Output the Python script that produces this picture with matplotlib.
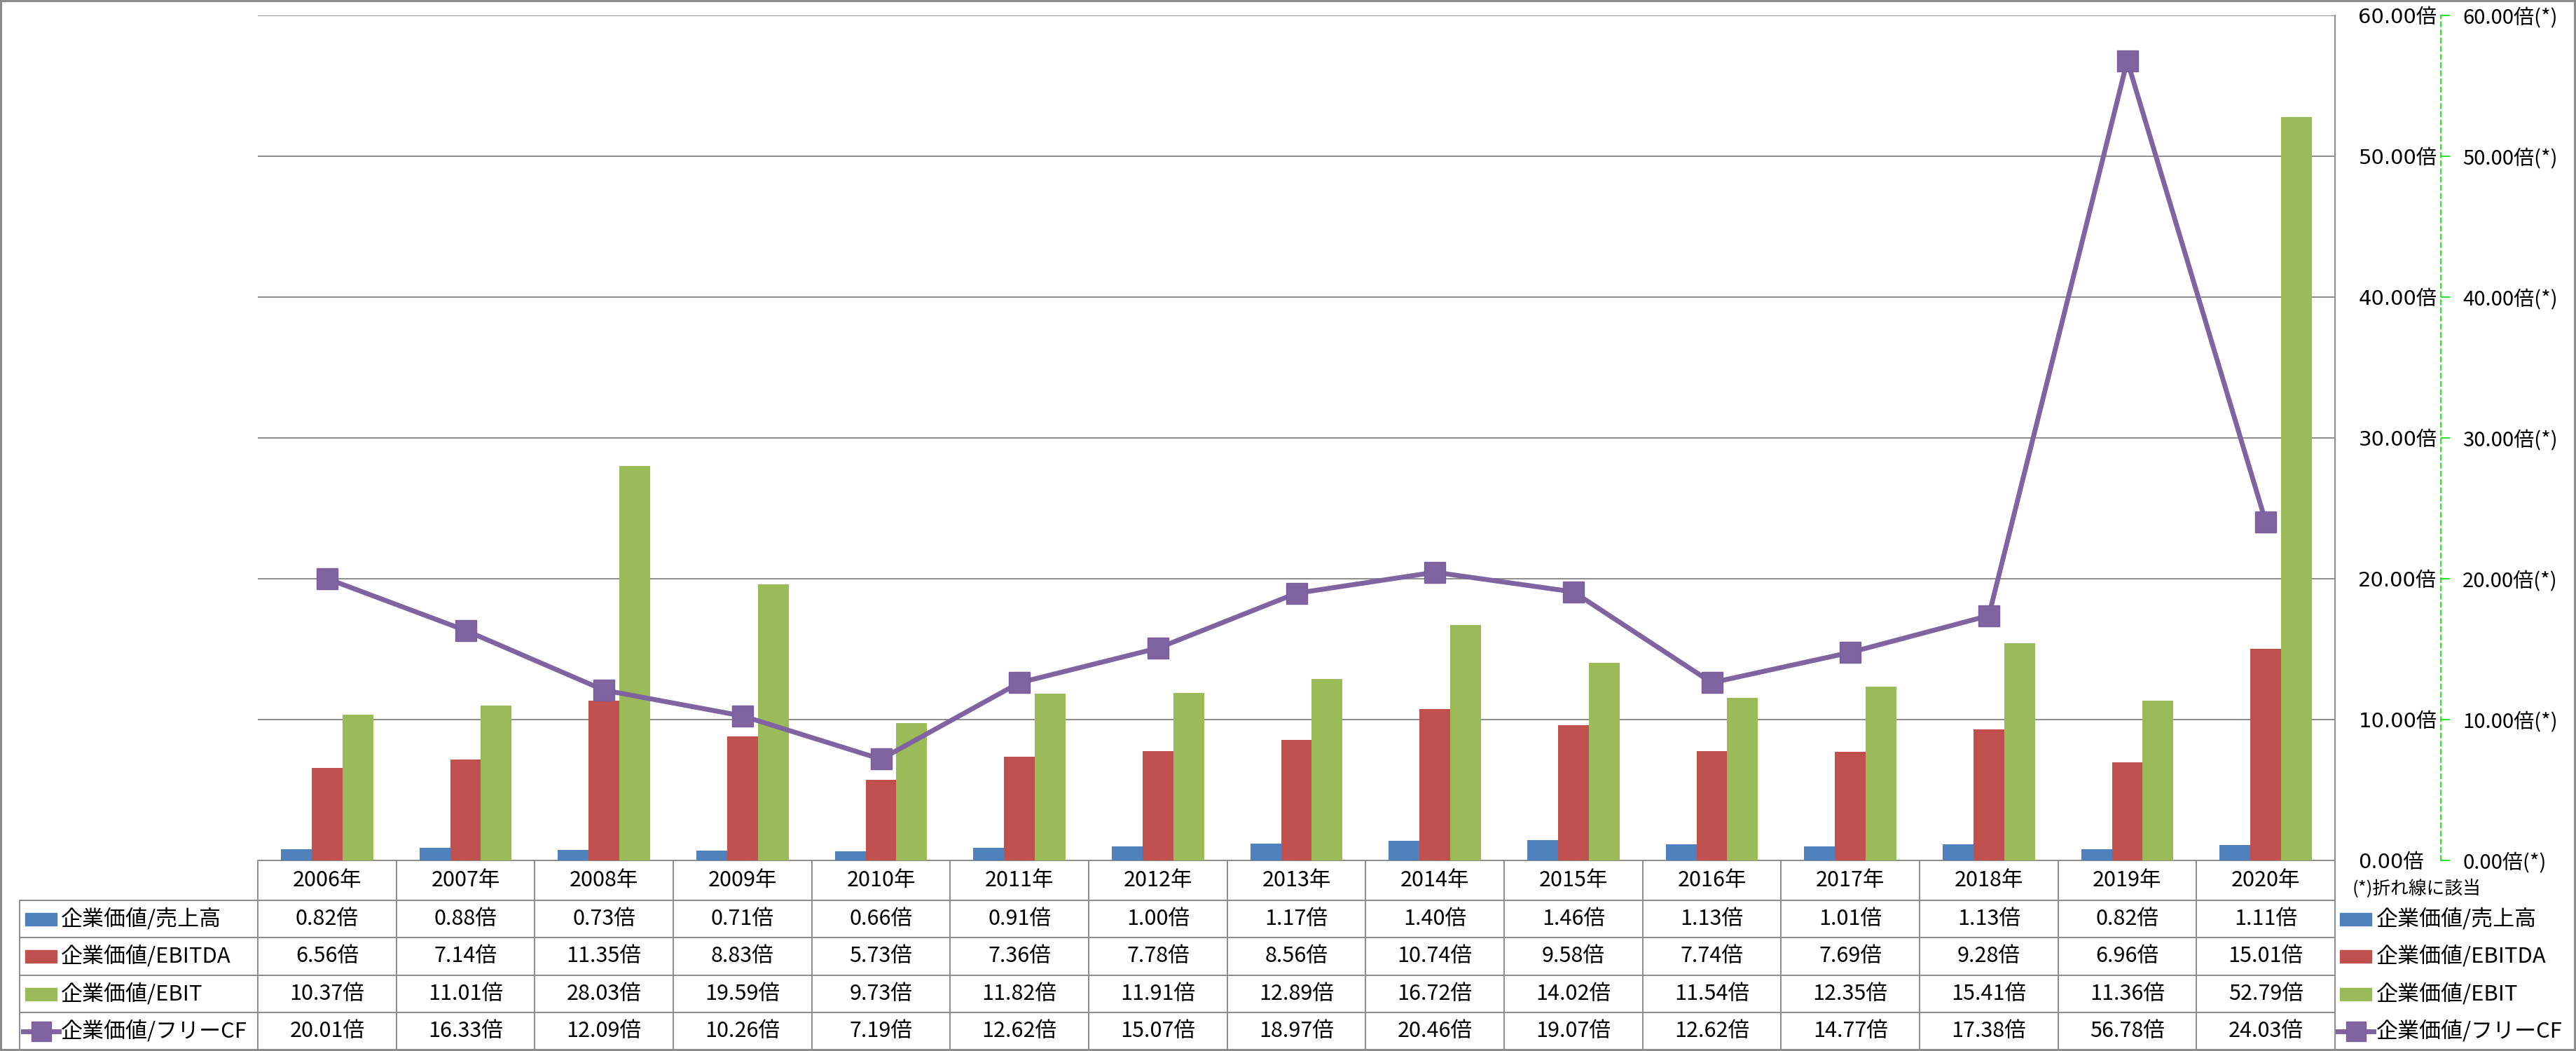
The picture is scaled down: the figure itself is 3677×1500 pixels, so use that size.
import numpy as np
import matplotlib
matplotlib.use('Agg')
import matplotlib.pyplot as plt
from matplotlib.patches import Rectangle
from matplotlib.lines import Line2D

plt.rcParams['font.family'] = ['Noto Sans CJK JP', 'DejaVu Sans']
TICK_FONT = ['DejaVu Sans', 'Noto Sans CJK JP']

# data
years = ['2006年', '2007年', '2008年', '2009年', '2010年', '2011年', '2012年', '2013年',
         '2014年', '2015年', '2016年', '2017年', '2018年', '2019年', '2020年']
ev_sales = [0.82, 0.88, 0.73, 0.71, 0.66, 0.91, 1.00, 1.17, 1.40, 1.46, 1.13, 1.01, 1.13, 0.82, 1.11]
ev_ebitda = [6.56, 7.14, 11.35, 8.83, 5.73, 7.36, 7.78, 8.56, 10.74, 9.58, 7.74, 7.69, 9.28, 6.96, 15.01]
ev_ebit = [10.37, 11.01, 28.03, 19.59, 9.73, 11.82, 11.91, 12.89, 16.72, 14.02, 11.54, 12.35, 15.41, 11.36, 52.79]
ev_fcf = [20.01, 16.33, 12.09, 10.26, 7.19, 12.62, 15.07, 18.97, 20.46, 19.07, 12.62, 14.77, 17.38, 56.78, 24.03]

names = ['企業価値/売上高', '企業価値/EBITDA', '企業価値/EBIT', '企業価値/フリーCF']
colors = ['#4F81BD', '#C0504D', '#9BBB59', '#8064A2']
yticks = [0, 10, 20, 30, 40, 50, 60]

W, H = 3677, 1500
GRAY = '#8c8c8c'
LIME = '#00E000'


def fx(x):
    return x / W


def fy(y):
    return 1 - y / H


fig = plt.figure(figsize=(W / 100, H / 100), dpi=100, edgecolor=GRAY, linewidth=3)

ax = fig.add_axes([fx(368), fy(1228), fx(3333) - fx(368), fy(22) - fy(1228)])
x = np.arange(len(years))
bw = 0.222
for k, vals in enumerate([ev_sales, ev_ebitda, ev_ebit]):
    ax.bar(x + (k - 1) * bw, vals, bw, color=colors[k], zorder=2)

ax.set_xlim(-0.5, len(years) - 0.5)
ax.set_ylim(0, 60)
ax.set_xticks([])
ax.grid(axis='y', color=GRAY, lw=1.4)
ax.set_axisbelow(True)
for s in ['left', 'top', 'bottom']:
    ax.spines[s].set_visible(False)
ax.spines['right'].set_color(GRAY)
ax.spines['right'].set_linewidth(1.4)

# line on secondary axis
ax2 = ax.twinx()
ax2.plot(x, ev_fcf, color=colors[3], lw=5, marker='s', ms=21, mec='#7a5e9c', zorder=3)
ax2.set_ylim(0, 60)
ax2.set_yticks(yticks)
ax2.set_yticklabels([f'{v:.2f}倍(*)' for v in yticks], family=TICK_FONT)
for s in ['left', 'top', 'bottom']:
    ax2.spines[s].set_visible(False)
ax2.spines['right'].set_position(('outward', 108.7))
ax2.spines['right'].set_color(LIME)
ax2.spines['right'].set_linestyle((0, (4, 3)))
ax2.spines['right'].set_linewidth(1.2)
ax2.tick_params(axis='y', direction='out', length=9.4, width=1.2, color=LIME, pad=13, labelsize=21)

# primary axis labels (twinx moves them left, put them back on the right)
ax.set_yticks(yticks)
ax.set_yticklabels([f'{v:.2f}倍' for v in yticks], family=TICK_FONT)
ax.yaxis.tick_right()
ax.tick_params(axis='y', length=0, pad=24, labelsize=21)

# data table
rows = [ev_sales, ev_ebitda, ev_ebit, ev_fcf]
cell_text = [[f'{v:.2f}倍' for v in vals] for vals in rows]
tbl = ax.table(cellText=cell_text, colLabels=years,
               cellLoc='center', bbox=[0, -270 / 1206, 1, 270 / 1206])
col_w = 1 / len(years)
for r in range(1, len(rows) + 1):
    tbl.add_cell(r, -1, width=col_w * 340 / 197.67, height=1, text='')
tbl.auto_set_font_size(False)
for (r, c), cell in tbl.get_celld().items():
    cell.set_edgecolor(GRAY)
    cell.set_linewidth(1.4)
    cell.get_text().set_fontsize(22)
    cell.set_height(57 if r == 0 else 53.25)

# row labels and legend keys
row_y = [1311.5, 1365, 1419, 1472]


def draw_key(i, x0, x1, yc):
    if i < 3:
        fig.patches.append(Rectangle((fx(x0), fy(yc + 9)), fx(x1 - x0), 18 / H,
                                     transform=fig.transFigure, color=colors[i]))
    else:
        xm = (x0 + x1) / 2
        fig.lines.append(Line2D([fx(x0 - 3), fx(xm), fx(x1 + 3)], [fy(yc)] * 3,
                                transform=fig.transFigure, color=colors[i], lw=5,
                                marker='s', ms=20, mec='#7a5e9c', markevery=[1]))


for i, name in enumerate(names):
    yc = row_y[i]
    draw_key(i, 36, 81, yc)
    fig.text(fx(87), fy(yc), name, ha='left', va='center', fontsize=22.3)
    draw_key(i, 3340, 3385, yc)
    fig.text(fx(3392), fy(yc), name, ha='left', va='center', fontsize=22.3)

fig.text(fx(3358), fy(1268), '(*)折れ線に該当', ha='left', va='center', fontsize=18.5)

fig.savefig('out.png', dpi=100)
